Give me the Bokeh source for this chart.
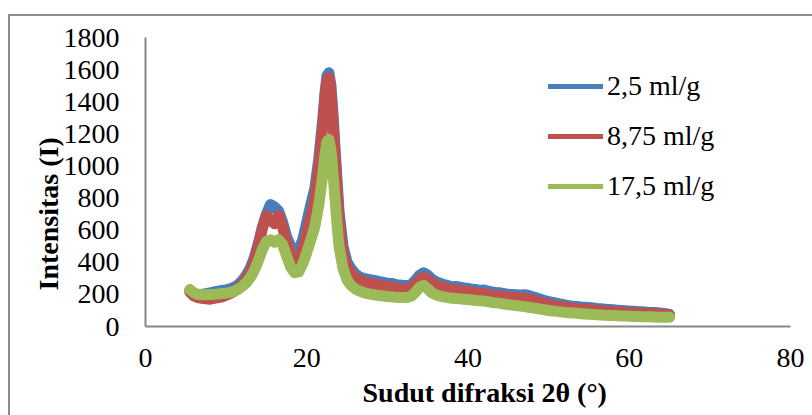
from bokeh.plotting import figure
from bokeh.models import Legend, LegendItem, Title, FixedTicker, Range1d
from bokeh.embed import file_html
from bokeh.resources import INLINE

# ---- data ----
two_theta = [5.5, 6.0, 6.5, 7.0, 7.5, 8.0, 8.5, 9.0, 9.5, 10.0, 10.5, 11.0, 11.5, 12.0, 12.5,
             13.0, 13.5, 14.0, 14.5, 15.0, 15.5, 16.0, 16.5, 17.0, 17.5, 18.0, 18.5, 19.0, 19.5,
             20.0, 20.5, 21.0, 21.5,
             22.0, 22.25, 22.5, 22.75, 23.0, 23.25, 23.5, 23.75, 24.0,
             24.5, 25.0, 25.5, 26.0, 26.5, 27.0, 27.5, 28.0, 28.5, 29.0, 29.5, 30.0, 30.5, 31.0,
             31.5, 32.0, 32.5, 33.0, 33.5, 34.0, 34.5, 35.0, 35.5, 36.0, 36.5, 37.0, 37.5, 38.0,
             38.5, 39.0, 39.5, 40.0, 40.5, 41.0, 41.5, 42.0, 42.5, 43.0, 43.5, 44.0, 44.5, 45.0,
             45.5, 46.0, 46.5, 47.0, 47.5, 48.0, 48.5, 49.0, 49.5, 50.0, 50.5, 51.0, 51.5, 52.0,
             52.5, 53.0, 53.5, 54.0, 54.5, 55.0, 55.5, 56.0, 56.5, 57.0, 57.5, 58.0, 58.5, 59.0,
             59.5, 60.0, 60.5, 61.0, 61.5, 62.0, 62.5, 63.0, 63.5, 64.0, 64.5, 65.0]

i_2_5 = [225, 205, 200, 200, 205, 210, 215, 220, 225, 228, 235, 245, 260, 285, 320, 365, 430,
         520, 620, 700, 760, 745, 720, 650, 560, 500, 470, 480, 540, 650, 760, 860, 1050,
         1300, 1450, 1560, 1580, 1500, 1330, 1120, 920, 720,
         500, 400, 360, 330, 310, 300, 295, 290, 285, 280, 275, 270, 268, 262, 258, 255, 255,
         262, 290, 320, 335, 320, 295, 280, 270, 262, 255, 248, 250, 245, 240, 238, 232, 230,
         225, 228, 220, 215, 212, 210, 205, 200, 200, 198, 196, 198, 193, 185, 178, 170, 162,
         155, 150, 145, 140, 135, 130, 127, 125, 122, 120, 118, 115, 112, 110, 108, 106, 104,
         102, 100, 98, 96, 95, 93, 92, 90, 88, 87, 85, 83, 80, 75]

i_8_75 = [215, 190, 180, 175, 172, 170, 175, 180, 185, 195, 205, 220, 240, 265, 300, 345, 410,
          500, 610, 690, 660, 640, 690, 620, 520, 450, 410, 420, 480, 580, 680, 790, 990,
          1250, 1420, 1530, 1550, 1460, 1280, 1060, 860, 660,
          460, 370, 330, 305, 290, 280, 272, 268, 262, 258, 252, 248, 245, 240, 236, 232, 232,
          240, 265, 295, 305, 295, 272, 258, 250, 242, 236, 230, 228, 225, 222, 218, 214, 210,
          205, 205, 198, 195, 192, 190, 186, 183, 182, 180, 178, 176, 172, 165, 158, 150, 143,
          137, 132, 128, 124, 120, 116, 113, 110, 108, 106, 104, 102, 100, 98, 96, 95, 93,
          92, 90, 88, 87, 86, 84, 83, 82, 80, 79, 78, 76, 74, 70]

i_17_5 = [230, 210, 200, 198, 198, 200, 200, 202, 205, 208, 212, 220, 232, 250, 272, 305, 350,
          410, 480, 530, 540, 525, 540, 510, 440, 370, 335, 340, 390, 460, 540, 620, 760,
          950, 1070, 1150, 1165, 1100, 960, 800, 640, 500,
          360, 290, 255, 235, 222, 212, 205, 200, 196, 193, 190, 186, 185, 182, 180, 180, 182,
          190, 215, 245, 255, 235, 210, 198, 190, 185, 180, 176, 174, 172, 170, 168, 165, 162,
          160, 158, 154, 150, 147, 144, 140, 136, 133, 130, 127, 124, 120, 116, 112, 108, 104,
          100, 97, 94, 91, 88, 86, 84, 82, 80, 78, 76, 75, 73, 72, 70, 69, 68, 67, 66,
          65, 64, 63, 62, 61, 60, 60, 59, 58, 57, 57, 58]

series_labels = ["2,5 ml/g", "8,75 ml/g", "17,5 ml/g"]
series_colors = ["#4A7EBB", "#C0504D", "#9BBB59"]
x_ticks = [0, 20, 40, 60, 80]
y_ticks = [0, 200, 400, 600, 800, 1000, 1200, 1400, 1600, 1800]
x_title = "Sudut difraksi 2θ (°)"
y_title = "Intensitas (I)"

FONT = "Liberation Serif"

p = figure(width=812, height=415, output_backend="svg", toolbar_location=None,
           x_range=Range1d(0, 80), y_range=Range1d(0, 1800),
           min_border_left=145, min_border_right=22, min_border_top=37, min_border_bottom=89)
# outer chart-area border (only its left and top edges fall inside the window)
p.styles = {
    "background-image": "linear-gradient(#8c8c8c, #8c8c8c), linear-gradient(#8c8c8c, #8c8c8c)",
    "background-position": "8px 14px, 8px 14px",
    "background-size": "2px 100%, 100% 2px",
    "background-repeat": "no-repeat",
}
p.border_fill_alpha = 0
p.outline_line_color = None
p.background_fill_color = "white"
p.xgrid.visible = False
p.ygrid.visible = False

for ax in (p.xaxis[0], p.yaxis[0]):
    ax.axis_line_color = "#868686"
    ax.axis_line_width = 2
    ax.major_tick_in = 0
    ax.major_tick_out = 0
    ax.minor_tick_in = 0
    ax.minor_tick_out = 0
    ax.major_label_text_font = FONT
    ax.major_label_text_font_size = "28px"
    ax.major_label_text_color = "black"

p.xaxis[0].ticker = FixedTicker(ticks=x_ticks)
p.yaxis[0].ticker = FixedTicker(ticks=y_ticks)
p.xaxis[0].major_label_standoff = 22
p.yaxis[0].major_label_standoff = 26

data = [i_2_5, i_8_75, i_17_5]
for ys, col in zip(data, series_colors):
    p.line(two_theta, ys, line_color=col, line_width=11,
           line_join="round", line_cap="round")

# legend swatches (thinner, as in the reference legend); one point draws no visible line
leg_renderers = [p.line(two_theta[:1], ys[:1], line_color=c, line_width=5, line_cap="round")
                 for ys, c in zip(data, series_colors)]
legend = Legend(items=[LegendItem(label=l, renderers=[r])
                       for l, r in zip(series_labels, leg_renderers)],
                location=(403, 120), orientation="vertical",
                glyph_width=55, glyph_height=40, label_height=40, label_standoff=4,
                spacing=10, padding=0, margin=0,
                border_line_color=None, background_fill_alpha=0,
                label_text_font=FONT, label_text_font_size="28px",
                label_text_color="black")
p.add_layout(legend)

p.add_layout(Title(text=x_title, align="left", offset=217, standoff=10,
                   text_font=FONT, text_font_style="bold", text_font_size="28px",
                   text_color="black"), "below")
p.add_layout(Title(text=y_title, align="left", offset=36, standoff=-6,
                   text_font=FONT, text_font_style="bold", text_font_size="28px",
                   text_color="black"), "left")

open("out.html", "w").write(file_html(p, INLINE))
